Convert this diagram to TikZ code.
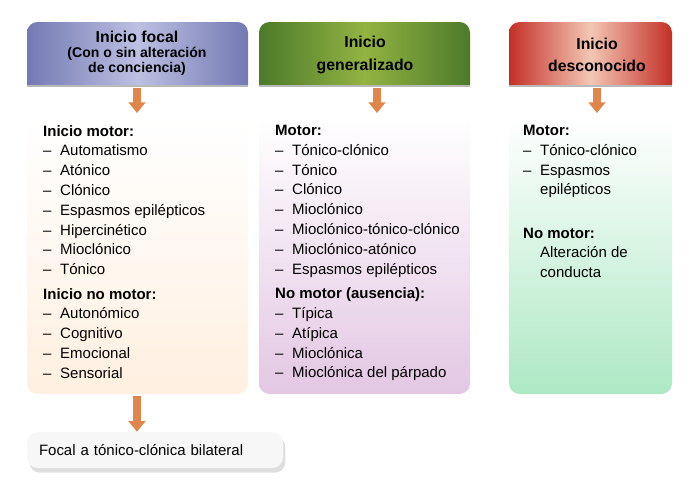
\documentclass[tikz,border=0pt]{standalone}
\usepackage{fontspec}
\setmainfont{Liberation Sans}
\usetikzlibrary{positioning, shadows, calc, arrows.meta}
\definecolor{focalA}{HTML}{7479B3}
\definecolor{focalB}{HTML}{BCC0E2}
\definecolor{generA}{HTML}{4C7A2A}
\definecolor{generB}{HTML}{93B342}
\definecolor{descoA}{HTML}{C42F27}
\definecolor{descoB}{HTML}{F3C7B5}
\definecolor{flecha}{HTML}{E0864A}
\newcommand{\itm}[1]{\makebox[0.51cm][l]{--}#1}
\newcommand{\sig}{\makebox[0.51cm][l]{}}
\tikzset{
  cabeza/.style={align=center, font=\fontsize{13.5}{16}\selectfont},
  lista/.style={anchor=north west, align=left, inner sep=0pt,
    font=\fontsize{12.8}{16.9}\selectfont},
  flechita/.style={line width=6pt, color=flecha, -{Triangle[width=14pt,length=9pt]}},
}
\begin{document}
\begin{tikzpicture}[x=0.03cm, y=-0.03cm]
  \useasboundingbox (0,0) rectangle (698,494);
  % cabeceras
  \shade[left color=focalA, right color=focalA, middle color=focalB]
    (27,85) [rounded corners=9pt] -- (27,22) -- (248,22) [sharp corners] -- (248,85) -- cycle;
  \shade[left color=generA, right color=generA, middle color=generB]
    (259,85) [rounded corners=9pt] -- (259,22) -- (470,22) [sharp corners] -- (470,85) -- cycle;
  \shade[left color=descoA, right color=descoA, middle color=descoB]
    (509,85) [rounded corners=9pt] -- (509,22) -- (672,22) [sharp corners] -- (672,85) -- cycle;
  \foreach \a/\b in {27/248, 259/470, 509/672}
    \draw[gray!55, line width=2pt] (\a,86) -- (\b,86);
  % cuerpos
  \shade[rounded corners=9pt, top color=white, bottom color=orange!12] (27,117) rectangle (248,394);
  \shade[rounded corners=9pt, top color=white, bottom color=violet!22] (259,117) rectangle (470,394);
  \shade[rounded corners=9pt, top color=white, bottom color=green!45!teal!32] (509,117) rectangle (672,394);

  \node[cabeza] (focal) at (137,53) {\textbf{Inicio focal}\\[-3pt]{\fontsize{12}{15}\selectfont\textbf{(Con o sin alteración}}\\[-3pt]{\fontsize{12}{15}\selectfont\textbf{de conciencia)}}};
  \node[cabeza] (gener) at (365,55) {\textbf{Inicio}\\[3pt]\textbf{generalizado}};
  \node[cabeza] (desco) at (597,55) {\textbf{Inicio}\\[3pt]\textbf{desconocido}};

  \node[lista] (lfocal) at (43,125) {\textbf{Inicio motor:}\\ \itm{Automatismo}\\ \itm{Atónico}\\ \itm{Clónico}\\ \itm{Espasmos epilépticos}\\ \itm{Hipercinético}\\ \itm{Mioclónico}\\ \itm{Tónico}\\[4pt]
    \textbf{Inicio no motor:}\\ \itm{Autonómico}\\ \itm{Cognitivo}\\ \itm{Emocional}\\ \itm{Sensorial}};
  \node[lista] (lgener) at (275,125) {\textbf{Motor:}\\ \itm{Tónico-clónico}\\ \itm{Tónico}\\ \itm{Clónico}\\ \itm{Mioclónico}\\ \itm{Mioclónico-tónico-clónico}\\ \itm{Mioclónico-atónico}\\ \itm{Espasmos epilépticos}\\[4pt]
    \textbf{No motor (ausencia):}\\ \itm{Típica}\\ \itm{Atípica}\\ \itm{Mioclónica}\\ \itm{Mioclónica del párpado}};
  \node[lista] (ldesco) at (523,125) {\textbf{Motor:}\\ \itm{Tónico-clónico}\\ \itm{Espasmos}\\ \sig epilépticos\\[20pt]
    \textbf{No motor:}\\ \sig Alteración de\\ \sig conducta};

  \node[fill=gray!6, rounded corners=9pt, drop shadow={opacity=0.25, shadow xshift=2pt, shadow yshift=-4pt},
    minimum width=256*0.03cm, minimum height=36*0.03cm, text width=232*0.03cm, align=left,
    font=\fontsize{12.8}{15}\selectfont]
    (bilat) at (155,450) {Focal a tónico-clónica bilateral};

  \coordinate (f1) at (137,88); \coordinate (f2) at (137,113);
  \coordinate (g1) at (377,88); \coordinate (g2) at (377,113);
  \coordinate (d1) at (597,88); \coordinate (d2) at (597,113);
  \coordinate (b1) at (137,396);
  \draw[flechita] (f1) -- (f2);
  \draw[flechita] (g1) -- (g2);
  \draw[flechita] (d1) -- (d2);
  \draw[flechita] (b1) -- (bilat.north -| b1);
\end{tikzpicture}
\end{document}
